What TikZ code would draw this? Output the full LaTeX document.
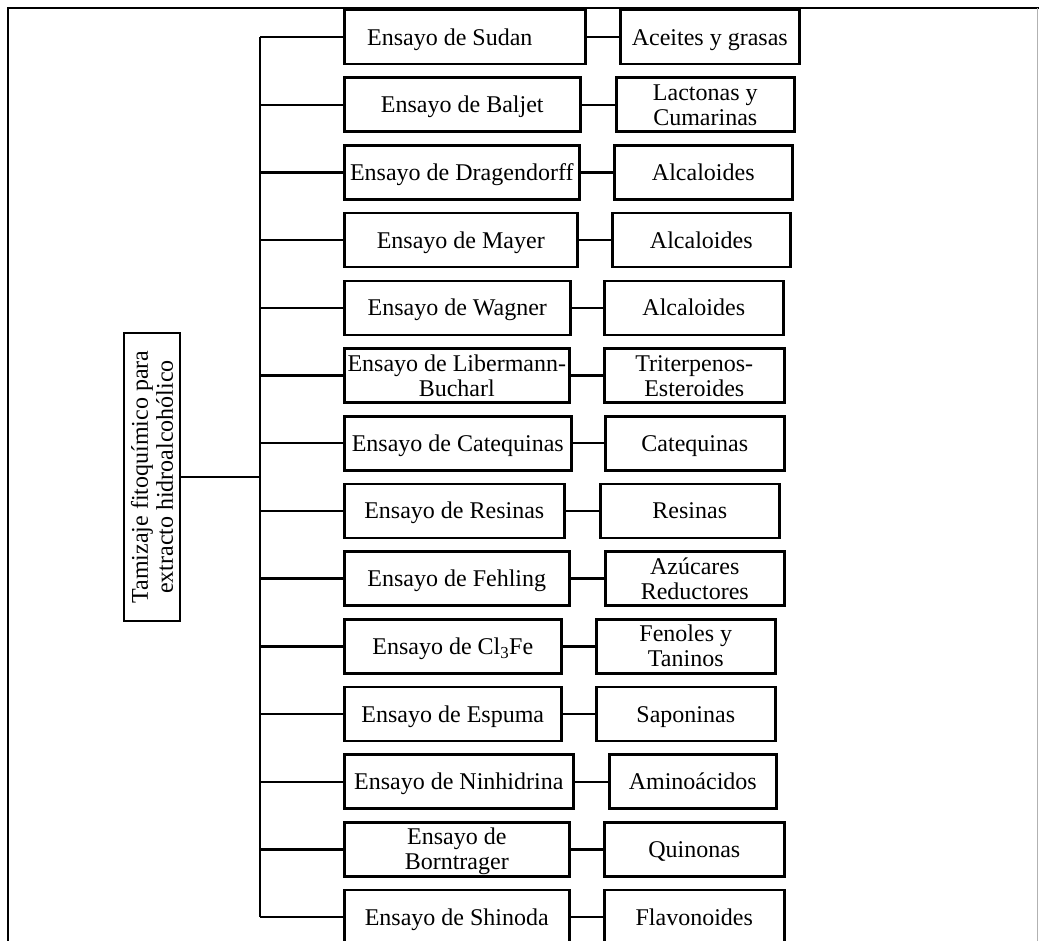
\documentclass[tikz,border=0pt]{standalone}
\usepackage{fontspec}
\setmainfont{Liberation Serif}

\tikzset{
  box/.style={draw=black, line width=2.6pt, fill=white, minimum height=54pt,
    inner sep=0.5pt, align=center, font=\fontsize{24}{25}\selectfont},
  link/.style={draw=black, line width=2.4pt},
  frame/.style={draw=black, line width=2pt},
}

% fixed top and bottom of a label, so every label sits alike in its box
\newcommand\tamlabel[1]{\rule{0pt}{22pt}#1\rule[-6pt]{0pt}{6pt}}

% one row: test box on the left, target group on the right
% #1 row index, #2 right edge of test box, #3/#4 left/right edge of result box
\newcommand\tamrow[6]{%
  \pgfmathsetmacro\rowy{37+67.7*#1}%
  \pgfmathsetmacro\lboxw{#2-343}%
  \pgfmathsetmacro\rboxw{#4-#3}%
  \node[box, minimum width=\lboxw pt, anchor=west] (e#1) at (343,\rowy) {\tamlabel{#5}};
  \node[box, minimum width=\rboxw pt, anchor=west] (r#1) at (#3,\rowy) {\tamlabel{#6}};
  \coordinate (t#1) at (260,\rowy);
  \draw[link] (t#1) -- (e#1.west);
  \draw[link] (e#1.east) -- (r#1.west);
}

\begin{document}
\begin{tikzpicture}[x=1pt,y=-1pt]
  \useasboundingbox (0,0) rectangle (1039,940);
  \clip (0,0) rectangle (1039,940);

  % outer frame (open at the bottom)
  \draw[frame] (7.5,945) -- (7.5,8) -- (1039,8);
  \draw[gray!60, line width=1pt] (1037.5,8) -- (1037.5,945);

  % root box
  \node[box, rotate=90, minimum width=288pt, minimum height=56pt] (root) at (152,477)
    {Tamizaje fitoquímico para\\extracto hidroalcohólico};

  \tamrow{0}{584}{619}{798}{Ensayo de Sudan\hspace{30pt}}{Aceites y grasas}
  \tamrow{1}{579}{615}{793}{Ensayo de Baljet}{Lactonas y\\Cumarinas}
  \tamrow{2}{578}{613}{791}{Ensayo de Dragendorff}{Alcaloides}
  \tamrow{3}{576}{611}{789}{Ensayo de Mayer}{Alcaloides}
  \tamrow{4}{569}{603}{782}{Ensayo de Wagner}{Alcaloides}
  \tamrow{5}{568}{603}{783}{Ensayo de Libermann-\\Bucharl}{Triterpenos-\\Esteroides}
  \tamrow{6}{570}{604}{783}{Ensayo de Catequinas}{Catequinas}
  \tamrow{7}{563}{599}{778}{Ensayo de Resinas}{Resinas}
  \tamrow{8}{568}{604}{783}{Ensayo de Fehling}{Azúcares\\Reductores}
  \tamrow{9}{560}{595}{774}{Ensayo de Cl\textsubscript{3}Fe}{Fenoles y\\Taninos}
  \tamrow{10}{560}{595}{774}{Ensayo de Espuma}{Saponinas}
  \tamrow{11}{572}{608}{775}{Ensayo de Ninhidrina}{Aminoácidos}
  \tamrow{12}{568}{603}{783}{Ensayo de\\Borntrager}{Quinonas}
  \tamrow{13}{568}{603}{783}{Ensayo de Shinoda}{Flavonoides}

  % trunk and link from the root
  \coordinate (tr) at (260,477);
  \draw[link, line width=2.6pt] (t0) -- (t13);
  \draw[link] (root.south) -- (tr);
\end{tikzpicture}
\end{document}
